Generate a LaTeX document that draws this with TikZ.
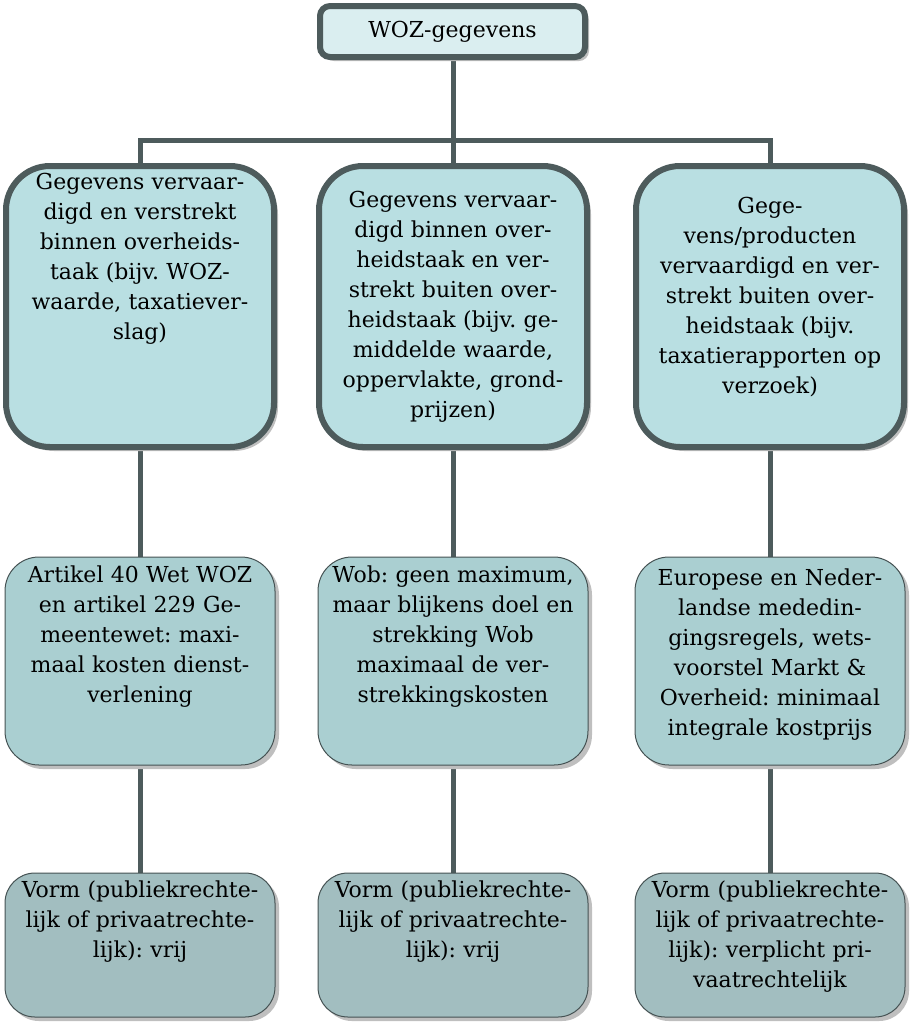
\documentclass[tikz,border=0pt]{standalone}
\usepackage{fontspec}
\setmainfont{DejaVu Serif}
\frenchspacing
\usepackage{tikz}
\usetikzlibrary{shadows,positioning}

\definecolor{lijn}{HTML}{4D5B5C}
\definecolor{kop}{HTML}{DAEEF0}
\definecolor{vlak1}{HTML}{B9DFE2}
\definecolor{vlak2}{HTML}{AACFD1}
\definecolor{vlak3}{HTML}{A2BEC0}

\tikzset{
  schaduw/.style={drop shadow={shadow xshift=2pt, shadow yshift=-2pt, fill=black!25, opacity=1}},
  kopbox/.style={rectangle, draw=lijn, line width=3pt, fill=kop, rounded corners=5pt, schaduw,
    minimum width=132.5pt, minimum height=25.5pt},
  taakbox/.style={rectangle, draw=lijn, line width=3pt, fill=vlak1, rounded corners=22pt, schaduw,
    minimum width=134pt, minimum height=140.5pt},
  regelbox/.style={rectangle, draw=lijn!90!black, line width=0.5pt, fill=vlak2, rounded corners=17pt, schaduw,
    minimum width=135pt, minimum height=104pt},
  vormbox/.style={rectangle, draw=lijn!90!black, line width=0.5pt, fill=vlak3, rounded corners=15pt, schaduw,
    minimum width=135pt, minimum height=72pt},
  tekst/.style={anchor=north, inner sep=0pt, align=center, text width=130pt,
    font=\fontsize{11}{15}\selectfont},
  verbinding/.style={draw=lijn, line width=2.5pt}
}

\begin{document}
\begin{tikzpicture}[x=0.5pt, y=-0.5pt]
        \useasboundingbox (0,0) rectangle (910,1025);
        \def\kolA{140}
        \def\kolB{453}
        \def\kolC{770}

        % verbindingen eerst, dozen eroverheen
        \coordinate (bus) at (\kolB,140);
        \coordinate (top-s) at (\kolB,57);
        \coordinate (r1a) at (\kolA,166);
        \coordinate (r1b) at (\kolB,166);
        \coordinate (r1c) at (\kolC,166);
        \draw[verbinding] (top-s) -- (bus);
        \draw[verbinding] (r1a) |- (bus) -| (r1c);
        \draw[verbinding] (bus) -- (r1b);
        \foreach \k in {\kolA,\kolB,\kolC} {
            \draw[verbinding] (\k,447) -- (\k,557);
            \draw[verbinding] (\k,765) -- (\k,873);
        }

        \node(top) [kopbox, font=\fontsize{11}{15}\selectfont] at (452.5,31.5) {WOZ-gegevens};

        % rij 1
        \node(taak1) [taakbox] at (\kolA,306.5) {};
        \node(taak2) [taakbox] at (\kolB,306.5) {};
        \node(taak3) [taakbox] at (\kolC,306.5) {};
        \node(taak1t) [tekst] at (\kolA,173) {Gegevens vervaar-\\digd en verstrekt\\binnen overheids-\\taak (bijv. WOZ-\\waarde, taxatiever-\\slag)};
        \node(taak2t) [tekst] at (\kolB,191) {Gegevens vervaar-\\digd binnen over-\\heidstaak en ver-\\strekt buiten over-\\heidstaak (bijv. ge-\\middelde waarde,\\oppervlakte, grond-\\prijzen)};
        \node(taak3t) [tekst] at (\kolC,197) {Gege-\\vens/producten\\vervaardigd en ver-\\strekt buiten over-\\heidstaak (bijv.\\taxatierapporten op\\verzoek)};

        % rij 2
        \node(regel1) [regelbox] at (\kolA,661) {};
        \node(regel2) [regelbox] at (\kolB,661) {};
        \node(regel3) [regelbox] at (\kolC,661) {};
        \node(regel1t) [tekst] at (\kolA,565) {Artikel 40 Wet WOZ\\en artikel 229 Ge-\\meentewet: maxi-\\maal kosten dienst-\\verlening};
        \node(regel2t) [tekst] at (\kolB,565) {Wob: geen maximum,\\maar blijkens doel en\\strekking Wob\\maximaal de ver-\\strekkingskosten};
        \node(regel3t) [tekst] at (\kolC,568) {Europese en Neder-\\landse mededin-\\gingsregels, wets-\\voorstel Markt \&\\Overheid: minimaal\\integrale kostprijs};

        % rij 3
        \node(vorm1) [vormbox] at (\kolA,945) {};
        \node(vorm2) [vormbox] at (\kolB,945) {};
        \node(vorm3) [vormbox] at (\kolC,945) {};
        \node(vorm1t) [tekst] at (\kolA,880) {Vorm (publiekrechte-\\lijk of privaatrechte-\\lijk): vrij};
        \node(vorm2t) [tekst] at (\kolB,880) {Vorm (publiekrechte-\\lijk of privaatrechte-\\lijk): vrij};
        \node(vorm3t) [tekst] at (\kolC,880) {Vorm (publiekrechte-\\lijk of privaatrechte-\\lijk): verplicht pri-\\vaatrechtelijk};
\end{tikzpicture}
\end{document}
